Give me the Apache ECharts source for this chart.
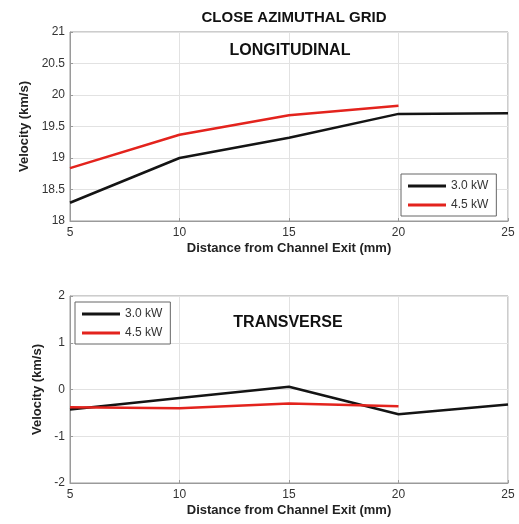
<!DOCTYPE html>
<html>
<head>
<meta charset="utf-8">
<title>Close azimuthal grid</title>
<script src="https://cdn.jsdelivr.net/npm/echarts@6/dist/echarts.min.js"></script>
<style>
  html, body { margin: 0; padding: 0; background: #fff; }
  #main { width: 519px; height: 524px; }
</style>
</head>
<body>
<div id="main"></div>
<script>
// distance from channel exit (mm)
var distance = [5, 10, 15, 20, 25];
var distanceRed = [5, 10, 15, 20];

// longitudinal velocity (km/s)
var long30 = [18.29, 19.0, 19.32, 19.70, 19.71];
var long45 = [18.84, 19.37, 19.68, 19.83];

// transverse velocity (km/s)
var trans30 = [-0.43, -0.18, 0.06, -0.53, -0.32];
var trans45 = [-0.38, -0.40, -0.30, -0.36];

function pairs(xs, ys) {
  return xs.map(function (x, i) { return [x, ys[i]]; });
}

var font = 'Liberation Sans, Arial, sans-serif';
var black = '#141414';
var red = '#e3231d';

function xAx(idx) {
  return {
    gridIndex: idx, type: 'value', min: 5, max: 25, interval: 5,
    name: 'Distance from Channel Exit (mm)', nameLocation: 'middle', nameGap: 21,
    nameTextStyle: { fontFamily: font, fontWeight: 'bold', fontSize: 13, color: '#222' },
    axisLine: { onZero: false, lineStyle: { color: '#9a9a9a' } },
    axisTick: { inside: true, length: 3, lineStyle: { color: '#9a9a9a' } },
    axisLabel: { fontFamily: font, fontSize: 12, color: '#333', margin: 6 },
    splitLine: { show: true, lineStyle: { color: '#e2e2e2' } }
  };
}

function yAx(idx, min, max, step, gap) {
  return {
    gridIndex: idx, type: 'value', min: min, max: max, interval: step,
    name: 'Velocity (km/s)', nameLocation: 'middle', nameGap: gap,
    nameTextStyle: { fontFamily: font, fontWeight: 'bold', fontSize: 13, color: '#222' },
    axisLine: { show: true, onZero: false, lineStyle: { color: '#9a9a9a' } },
    axisTick: { inside: true, length: 3, lineStyle: { color: '#9a9a9a' } },
    axisLabel: { fontFamily: font, fontSize: 12, color: '#333', margin: 5 },
    splitLine: { show: true, lineStyle: { color: '#e2e2e2' } }
  };
}

function line(name, idx, xs, ys, color) {
  return {
    name: name, type: 'line', xAxisIndex: idx, yAxisIndex: idx,
    data: pairs(xs, ys), symbol: 'none', animation: false,
    lineStyle: { color: color, width: 2.5 }, itemStyle: { color: color }
  };
}

function legendAt(left, top) {
  return {
    left: left, top: top, orient: 'vertical',
    data: ['3.0 kW', '4.5 kW'],
    icon: 'rect', itemWidth: 38, itemHeight: 3, itemGap: 7,
    padding: [6, 8, 5, 7],
    borderColor: '#666', borderWidth: 1, backgroundColor: '#fff',
    textStyle: { fontFamily: font, fontSize: 12, color: '#333' },
    selectedMode: false
  };
}

var chart = echarts.init(document.getElementById('main'));
chart.setOption({
  animation: false,
  title: [
    { text: 'CLOSE AZIMUTHAL GRID', left: 289, top: 5, textAlign: 'center',
      textStyle: { fontFamily: font, fontWeight: 'bold', fontSize: 15, color: '#111' } },
    { text: 'LONGITUDINAL', left: 285, top: 38, textAlign: 'center',
      textStyle: { fontFamily: font, fontWeight: 'bold', fontSize: 16, color: '#111' } },
    { text: 'TRANSVERSE', left: 283, top: 310, textAlign: 'center',
      textStyle: { fontFamily: font, fontWeight: 'bold', fontSize: 16, color: '#111' } }
  ],
  legend: [legendAt(401, 174), legendAt(75, 302)],
  grid: [
    { left: 70, right: 11, top: 32, height: 189, show: true, borderColor: '#9a9a9a', borderWidth: 1 },
    { left: 70, right: 11, top: 296, height: 187, show: true, borderColor: '#9a9a9a', borderWidth: 1 }
  ],
  xAxis: [xAx(0), xAx(1)],
  yAxis: [yAx(0, 18, 21, 0.5, 38), yAx(1, -2, 2, 1, 25)],
  series: [
    line('3.0 kW', 0, distance, long30, black),
    line('4.5 kW', 0, distanceRed, long45, red),
    line('3.0 kW', 1, distance, trans30, black),
    line('4.5 kW', 1, distanceRed, trans45, red)
  ]
});
</script>
</body>
</html>
